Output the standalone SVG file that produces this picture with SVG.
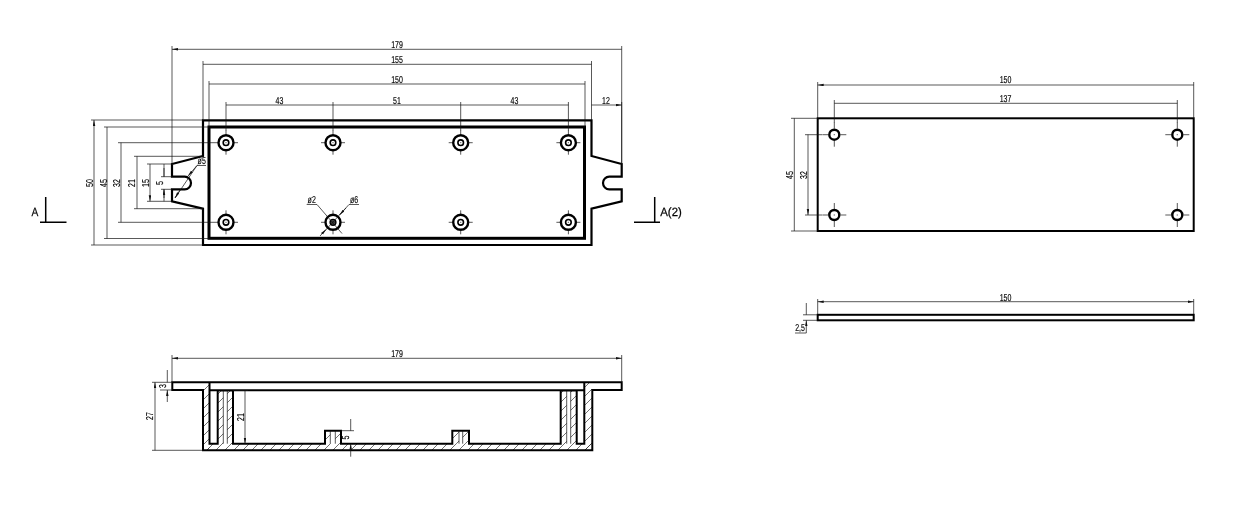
<svg xmlns="http://www.w3.org/2000/svg" width="1240" height="523" viewBox="0 0 1240 523">
<style>
.bg{fill:#fff}
.o{fill:none;stroke:#000;stroke-width:2.2}
.o3{fill:none;stroke:#000;stroke-width:3}
.t{fill:none;stroke:#111;stroke-width:.7}
.d{fill:none;stroke:#111;stroke-width:.7;marker-start:url(#a);marker-end:url(#a)}
.e{fill:none;stroke:#111;stroke-width:.7;marker-end:url(#a)}
.h{fill:url(#hatch);stroke:none}
text{font-family:"Liberation Sans",sans-serif;font-size:10px;fill:#000;stroke:#000;stroke-width:.18;text-anchor:middle;text-rendering:geometricPrecision}
.s{font-size:12px;stroke-width:.25}
</style>
<defs>
<marker id="a" markerUnits="userSpaceOnUse" markerWidth="7" markerHeight="3" refX="6" refY="1.25" orient="auto-start-reverse"><path d="M0 0L6 1.25L0 2.5Z" fill="#111"/></marker>
<pattern id="hatch" patternUnits="userSpaceOnUse" width="9" height="9"><path d="M-1 10L10 -1M-1 1L1 -1M8 10L10 8" stroke="#222" stroke-width=".65" fill="none"/></pattern>
<g id="hole"><circle r="7.5" fill="none" stroke="#000" stroke-width="2.4"/><circle r="2.8" fill="none" stroke="#000" stroke-width="1.6"/><path class="t" d="M-12 0H-8M8 0H12M0 -12V-8M0 8V12M-.6 0H.6"/></g>
<g id="plain"><circle r="5" fill="none" stroke="#000" stroke-width="2.4"/><path class="t" d="M-12 0H-6M6 0H12M0 -12V-6M0 6V12M-.6 0H.6"/></g>
</defs>
<rect class="bg" width="1240" height="523"/>

<g id="plan-view">
<path class="o" d="M203 156L172 164V176.7H184.7A6.3 6.3 0 0 1 184.7 189.3H172V201.3L203 208.7V245H591.5V208.7L621.7 201.3V189.3H609.3A6.3 6.3 0 0 1 609.3 176.7H621.7V164L591.5 156V120.3H203Z"/>
<rect class="o3" x="209" y="127" width="375.5" height="111.3"/>
<use href="#hole" x="226" y="142.7"/><use href="#hole" x="333" y="142.7"/><use href="#hole" x="460.7" y="142.7"/><use href="#hole" x="568.4" y="142.7"/>
<use href="#hole" x="226" y="222.3"/><use href="#hole" x="333" y="222.3"/><use href="#hole" x="460.7" y="222.3"/><use href="#hole" x="568.4" y="222.3"/>
<circle cx="333" cy="222.3" r="2.2" fill="#333"/>
</g>

<g id="section-marks">
<path class="o" style="stroke-width:1.5" d="M45.7 197V222.3M40 222.3H66.5M654.7 197V222.3M634 222.3H660"/>
</g>

<g id="section-view">
<rect class="h" x="203" y="383" width="6.5" height="67"/>
<rect class="h" x="584.5" y="383" width="7.5" height="67"/>
<rect class="h" x="203" y="443.7" width="389" height="6.6"/>
<rect class="h" x="217.7" y="390" width="5.6" height="54"/><rect class="h" x="227.3" y="390" width="5.7" height="54"/>
<rect class="h" x="560.7" y="390" width="6" height="54"/><rect class="h" x="570.7" y="390" width="6" height="54"/>
<rect class="h" x="325" y="430.7" width="5.3" height="13"/><rect class="h" x="335.3" y="430.7" width="5.7" height="13"/>
<rect class="h" x="452.3" y="430.7" width="6.7" height="13"/><rect class="h" x="462.7" y="430.7" width="6.3" height="13"/>
<path class="o" style="stroke-width:2" d="M172.3 382.3H621.7V390H592.3V450.3H203V390H172.3ZM209.5 382.3V443.7H217.7V390.5H233V443.7H325V430.7H341V443.7H452.3V430.7H469V443.7H560.7V390.5H576.7V443.7H584.3V382.3M209.5 390.3H584.3"/>
<path class="t" d="M223.3 390.5V443.7M227.3 390.5V443.7M330.3 430.7V443.7M335.3 430.7V443.7M459 430.7V443.7M462.7 430.7V443.7M566.7 390.5V443.7M570.7 390.5V443.7"/>
</g>

<g id="plate-view">
<rect class="o" style="stroke-width:2" x="817.7" y="118.3" width="376" height="112.7"/>
<use href="#plain" x="834.3" y="134.7"/><use href="#plain" x="1177.3" y="134.7"/><use href="#plain" x="834.3" y="215"/><use href="#plain" x="1177.3" y="215"/>
</g>
<g id="plate-edge-view">
<rect class="o" style="stroke-width:2" x="817.7" y="314.8" width="376" height="5.5"/>
</g>

<g id="connectors">
<path class="t" d="M172 46V164M621.7 46V164M203 61V120M591.5 61V120M209 81V127M585 81V127M226 102V131M333 102V131M460.7 102V131M568.4 102V131M621.7 102V164"/>
<path class="d" d="M172 49.3H621.7M203 64.3H591.5M209 84H585M226 105H333M333 105H460.7M460.7 105H568.4M591.5 105H621.7"/>
<path class="t" d="M91 120H203M104 127H209M118 142.7H214M118 222.3H214M104 238.5H209M91 245H203M134 156.3H203M134 208.7H203M147 164H172M147 201.3H172M161 176.7H172M161 189.3H172"/>
<path class="d" d="M94 120V245M107 127V238.5M121 142.7V222.3M137 156.3V208.7M150 164V201.3"/>
<path class="t" d="M164 164V176.7M164 189.3V201.3"/>
<path class="e" d="M164 168V176.7M164 198V189.3"/>
<path class="e" d="M197 165.5L188 176"/><path class="t" d="M206 165.5H197L175 198"/>
<path class="e" d="M180 190L175 198"/>
<path class="t" d="M306.7 204.5H317L342 233.5M359 204.5H349L322 234"/>
<path class="e" d="M346 208L339.5 215"/><path class="e" d="M320 236L326 229.5"/>
<path class="t" d="M172 355V382M621.7 355V382"/>
<path class="d" d="M172 358.3H621.7"/>
<path class="t" d="M160 390H172M152 450.3H203M233 390.5H248M341 430.7H354M152 382.3H172"/>
<path class="d" d="M155 382.3V450.3M245 390.5V443.7"/>
<path class="e" d="M167.3 370V382.3M167.3 402V390"/>
<path class="e" d="M350.7 419V430.7M350.7 456.7V443.7"/>
<path class="t" d="M817.7 82V118M1193.7 82V118M834.3 100V123M1177.3 100V123M791 118.3H817.7M791 231H817.7M805 134.7H822M805 215H822"/>
<path class="d" d="M817.7 85H1193.7M834.3 103.3H1177.3M794.3 118.3V231M808 134.7V215"/>
<path class="t" d="M817.7 299V314M1193.7 299V314M803 314.8H817.7M803 320.3H817.7M795 333H806.3"/>
<path class="d" d="M817.7 301.7H1193.7"/>
<path class="e" d="M806.3 303V314.8M806.3 333V320.3"/>
</g>

<g id="labels" opacity=".99">
<text class="s" transform="translate(35 215.5) scale(.85 1)">A</text>
<text class="s" transform="translate(671 215.5) scale(.95 1)">A(2)</text>
<text transform="translate(397 48) scale(.7 1)">179</text><text transform="translate(397 63.3) scale(.7 1)">155</text><text transform="translate(397 82.7) scale(.7 1)">150</text>
<text transform="translate(279.5 103.7) scale(.7 1)">43</text><text transform="translate(397 103.7) scale(.7 1)">51</text><text transform="translate(514.5 103.7) scale(.7 1)">43</text><text transform="translate(606 103.7) scale(.7 1)">12</text>
<text transform="translate(92.7 183) rotate(-90) scale(.7 1)">50</text>
<text transform="translate(106.7 183) rotate(-90) scale(.7 1)">45</text>
<text transform="translate(120 183) rotate(-90) scale(.7 1)">32</text>
<text transform="translate(135.3 183) rotate(-90) scale(.7 1)">21</text>
<text transform="translate(148.7 183) rotate(-90) scale(.7 1)">15</text>
<text transform="translate(162.7 183) rotate(-90) scale(.7 1)">5</text>
<text transform="translate(201.7 164.3) scale(.7 1)">ø5</text><text transform="translate(311.7 203) scale(.7 1)">ø2</text><text transform="translate(354 203) scale(.7 1)">ø6</text>
<text transform="translate(397 356.7) scale(.7 1)">179</text>
<text transform="translate(165.5 386) rotate(-90) scale(.7 1)">3</text>
<text transform="translate(153.3 416) rotate(-90) scale(.7 1)">27</text>
<text transform="translate(244.3 417) rotate(-90) scale(.7 1)">21</text>
<text transform="translate(349 437.5) rotate(-90) scale(.7 1)">5</text>
<text transform="translate(1005.5 83) scale(.7 1)">150</text><text transform="translate(1005.5 101.5) scale(.7 1)">137</text>
<text transform="translate(793.3 175) rotate(-90) scale(.7 1)">45</text>
<text transform="translate(806.7 175) rotate(-90) scale(.7 1)">32</text>
<text transform="translate(1005.5 300.5) scale(.7 1)">150</text>
<text transform="translate(800 330.5) scale(.7 1)">2,5</text>
</g>
</svg>
